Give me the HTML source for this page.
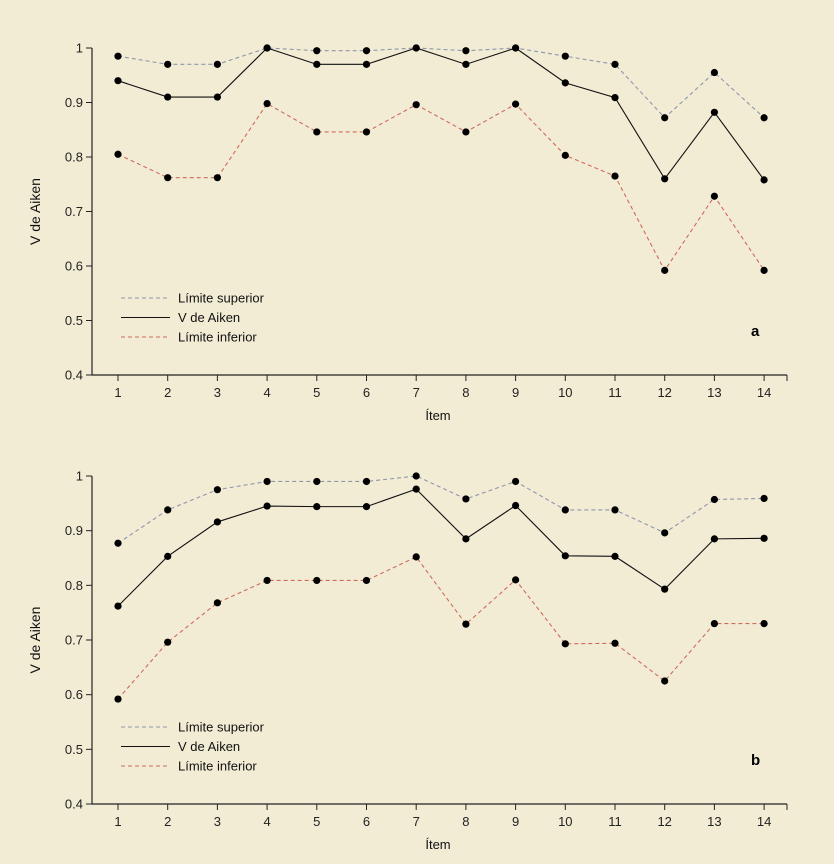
<!DOCTYPE html>
<html><head><meta charset="utf-8"><style>
body{margin:0;background:#f2ecd5;}
svg{display:block;font-family:"Liberation Sans",Arial,sans-serif;}
</style></head><body>
<svg id="c" width="834" height="864"></svg>
<script>
const items=[1,2,3,4,5,6,7,8,9,10,11,12,13,14];
const yTicks=[0.4,0.5,0.6,0.7,0.8,0.9,1];
const yTickLabels=["0.4","0.5","0.6","0.7","0.8","0.9","1"];
const aSup=[.985,.97,.97,1,.995,.995,1,.995,1,.985,.97,.872,.955,.872];
const aV=[.94,.91,.91,1,.97,.97,1,.97,1,.936,.909,.76,.882,.758];
const aInf=[.805,.762,.762,.898,.846,.846,.896,.846,.897,.803,.765,.592,.728,.592];
const bSup=[.877,.938,.975,.99,.99,.99,1,.958,.99,.938,.938,.896,.957,.959];
const bV=[.762,.853,.916,.945,.944,.944,.976,.885,.946,.854,.853,.793,.885,.886];
const bInf=[.592,.696,.768,.809,.809,.809,.852,.729,.81,.693,.694,.625,.73,.73];
const NS="http://www.w3.org/2000/svg";
const svg=document.getElementById('c');
function mk(t,a,p){const e=document.createElementNS(NS,t);for(const k in a)e.setAttribute(k,a[k]);(p||svg).appendChild(e);return e;}
function panel(id,top,bottom,sup,v,inf,letter){
  const g=mk('g',{});
  
  
  const x=i=>118+(i-1)*49.7;
  const y=val=>bottom-(val-0.4)/0.6*(bottom-top);
  const ax=mk('path',{d:`M92 ${top} V${bottom} H787`,stroke:'#222',fill:'none','stroke-width':1.2},g);
  
  
  yTicks.forEach((t,i)=>{
    mk('line',{x1:86,x2:92,y1:y(t),y2:y(t),stroke:'#222'},g);
    const tx=mk('text',{x:83,y:y(t)+4.5,'text-anchor':'end','font-size':13,fill:'#222'},g);
    tx.textContent=yTickLabels[i];
    
    
  });
  items.forEach(it=>{mk('line',{x1:x(it),x2:x(it),y1:bottom,y2:bottom+6,stroke:'#222'},g);});
  mk('line',{x1:787,x2:787,y1:bottom,y2:bottom+6,stroke:'#222'},g);
  items.forEach(it=>{
    const tx=mk('text',{x:x(it),y:bottom+22,'text-anchor':'middle','font-size':13,fill:'#222'},g);
    tx.textContent=it;
    
    
  });
  const xt=mk('text',{x:438,y:bottom+45,'text-anchor':'middle','font-size':13,fill:'#111'},g);
  xt.textContent='Ítem';
  
  
  const yt=mk('text',{x:0,y:0,transform:`translate(40 ${(top+bottom)/2}) rotate(-90)`,'text-anchor':'middle','font-size':14,fill:'#111'},g);
  yt.textContent='V de Aiken';
  
  
  const series=[[sup,'#8d97ad','4 3','upper-limit'],[v,'#111','','v-aiken'],[inf,'#cf6b5b','4 3','lower-limit']];
  series.forEach(([d,col,dash,name])=>{
    const pl=mk('polyline',{points:d.map((val,i)=>x(items[i])+','+y(val)).join(' '),fill:'none',stroke:col,'stroke-width':1.1,'stroke-dasharray':dash},g);
    
    
    d.forEach((val,i)=>{
      const c=mk('circle',{cx:x(items[i]),cy:y(val),r:3.6,fill:'#000'},g);
      
      
    });
  });
  const leg=[['Límite superior','#8d97ad','4 3'],['V de Aiken','#111',''],['Límite inferior','#cf6b5b','4 3']];
  const ly=bottom-77;
  leg.forEach((l,i)=>{
    const yy=ly+i*19.5;
    mk('line',{x1:121,x2:170,y1:yy,y2:yy,stroke:l[1],'stroke-width':1.1,'stroke-dasharray':l[2]},g);
    const t=mk('text',{x:178,y:yy+4.5,'font-size':13,fill:'#111'},g);
    t.textContent=l[0];
    
    
  });
  const lt=mk('text',{x:751,y:bottom-39,'font-size':15,'font-weight':'bold',fill:'#000'},g);
  lt.textContent=letter;
  
  
}
panel('a',48,375,aSup,aV,aInf,'a');
panel('b',476,804,bSup,bV,bInf,'b');
</script>
</body></html>
